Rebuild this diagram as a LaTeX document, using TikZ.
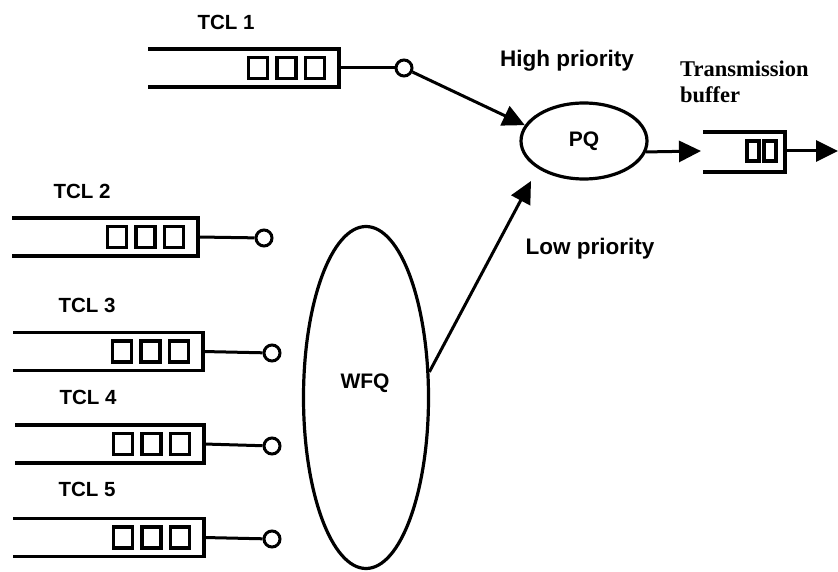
\documentclass[tikz,border=0pt]{standalone}
\usepackage{fontspec}
\setmainfont{Liberation Sans}
\newfontfamily\timesfont{Liberation Serif}
\usetikzlibrary{shapes.geometric,arrows.meta}

\tikzset{
  qline/.style={line width=3.2pt},
  wire/.style={line width=3pt},
  arr/.style={line width=3pt, -{Triangle[length=22pt,width=21pt]}},
  port/.style={circle, draw, line width=3pt, fill=white, minimum size=16pt, inner sep=0pt},
  lbl/.style={font=\bfseries\fontsize{20.5}{24}\selectfont, inner sep=0pt},
  tag/.style={font=\bfseries\fontsize{22.5}{26}\selectfont, inner sep=0pt},
  sched/.style={ellipse, draw, line width=3.2pt, inner sep=0pt, font=\bfseries\fontsize{21}{25}\selectfont},
  tbtext/.style={anchor=base west, inner sep=0pt, font=\timesfont\bfseries\fontsize{22.5}{26}\selectfont},
}

% Traffic-class queue: open on the left, three packets at the right end.
% #1 name of the outlet coordinate, #2 left x, #3 right x, #4 middle y
\newcommand\tclqueue[4]{%
  \draw[qline] (#2,#4-19) -- (#3,#4-19) -- (#3,#4+19) -- (#2,#4+19);
  \foreach \d in {24,52.5,81}
    \draw[qline] (#3-\d-9.5,#4-10.5) rectangle ++(19,21);
  \coordinate (#1) at (#3,#4);
}

\begin{document}
\begin{tikzpicture}[x=1pt,y=-1pt]
\useasboundingbox (0,0) rectangle (838,572);

% traffic classes
\tclqueue{q1}{148}{339}{68}
\tclqueue{q2}{12}{198}{237}
\tclqueue{q3}{13}{203}{351.5}
\tclqueue{q4}{15}{204}{444}
\tclqueue{q5}{13}{204}{537.5}

\node[lbl] (t1) at (226,22) {TCL 1};
\node[lbl] (t2) at (82,191.5) {TCL 2};
\node[lbl] (t3) at (87,305) {TCL 3};
\node[lbl] (t4) at (88,397.5) {TCL 4};
\node[lbl] (t5) at (87,489.5) {TCL 5};

\node[port] (c1) at (404,68) {};
\node[port] (c2) at (264,238) {};
\node[port] (c3) at (272,353) {};
\node[port] (c4) at (272,446) {};
\node[port] (c5) at (272,539) {};

\foreach \i in {1,...,5} \draw[wire] (q\i) -- (c\i);

% schedulers
\node[sched, minimum width=126pt, minimum height=76pt] (pq) at (584,141) {PQ};
\node[sched, minimum width=125pt, minimum height=342pt] (wfq) at (366,397.5) {};
\node[font=\bfseries\fontsize{21}{25}\selectfont, inner sep=0pt] (wfqt) at (365,383) {WFQ};

\node[tag] (hp) at (567,61) {High priority};
\node[tag] (lp) at (590,249) {Low priority};

% transmission buffer
\draw[qline] (703,132) -- (785,132) -- (785,172) -- (703,172);
\draw[qline] (747,141) rectangle ++(12,20);
\draw[qline] (764,141) rectangle ++(12,20);
\coordinate (bufin) at (701,151);
\coordinate (bufout) at (785,151);
\coordinate (outend) at (838,151);
\node[tbtext] (tb1) at (680,77) {Transmission};
\node[tbtext] (tb2) at (680,103) {buffer};

% connectors
\coordinate (lowin) at (531,181);
\draw[arr] (c1) -- (pq.165);
\draw[arr] (wfq.22) -- (lowin);
\draw[arr] (pq.-10) -- (bufin);
\draw[arr] (bufout) -- (outend);
\end{tikzpicture}
\end{document}
